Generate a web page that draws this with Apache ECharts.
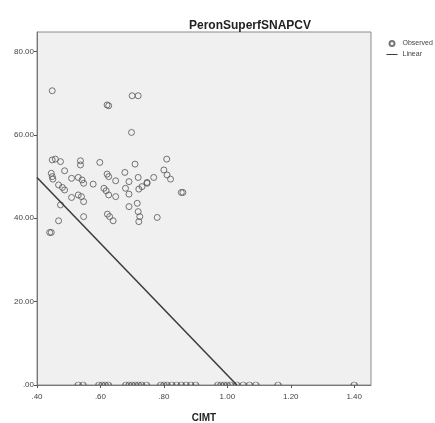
<!DOCTYPE html>
<html>
<head>
<meta charset="utf-8">
<script src="https://cdn.jsdelivr.net/npm/echarts@6/dist/echarts.min.js"></script>
<style>
  html, body { margin: 0; padding: 0; background: #ffffff; }
  #chart { width: 435px; height: 423px; }
</style>
</head>
<body>
<div id="chart"></div>
<script>
// Observed cases: CIMT against PeronSuperfSNAPCV
const cimtObserved = [
  0.448, 0.621, 0.626, 0.700, 0.719, 0.698,
  0.448, 0.458, 0.474, 0.537, 0.537, 0.598, 0.709, 0.809,
  0.677, 0.800, 0.810, 0.821,
  0.445, 0.448, 0.450, 0.487, 0.509, 0.530, 0.542, 0.547,
  0.621, 0.626, 0.648, 0.690, 0.719, 0.747, 0.768,
  0.468, 0.480, 0.487, 0.577, 0.611, 0.618, 0.626, 0.648,
  0.679, 0.690, 0.721, 0.731, 0.747, 0.855, 0.860,
  0.509, 0.530, 0.540, 0.547, 0.474, 0.690, 0.716,
  0.719, 0.724, 0.721, 0.547, 0.622, 0.629, 0.640, 0.779,
  0.468, 0.440, 0.445,
  // zero responses along the axis
  0.530, 0.545, 0.595, 0.605, 0.615, 0.625, 0.680, 0.690, 0.700, 0.710,
  0.720, 0.730, 0.745, 0.790, 0.800, 0.810, 0.825, 0.840, 0.855, 0.870,
  0.885, 0.900, 0.970, 0.980, 0.990, 1.000, 1.010, 1.030, 1.050, 1.070,
  1.090, 1.160, 1.400
];
const snapObserved = [
  70.6, 67.2, 67.0, 69.4, 69.4, 60.6,
  54.0, 54.2, 53.6, 53.8, 52.8, 53.4, 53.0, 54.2,
  51.0, 51.6, 50.4, 49.4,
  50.8, 50.0, 49.4, 51.4, 49.6, 49.8, 49.2, 48.4,
  50.6, 50.0, 49.0, 48.8, 49.8, 48.6, 49.8,
  48.0, 47.4, 46.8, 48.2, 47.2, 46.6, 45.6, 45.2,
  47.2, 45.8, 47.0, 47.6, 48.4, 46.2, 46.2,
  45.0, 45.6, 45.2, 44.0, 43.2, 42.8, 43.6,
  41.6, 40.4, 39.2, 40.4, 41.0, 40.4, 39.4, 40.2,
  39.4, 36.6, 36.6,
  0, 0, 0, 0, 0, 0, 0, 0, 0, 0,
  0, 0, 0, 0, 0, 0, 0, 0, 0, 0,
  0, 0, 0, 0, 0, 0, 0, 0, 0, 0,
  0, 0, 0
];

// Linear fit endpoints (clipped at the lower axis)
const fitCimt = [0.40, 1.03];
const fitSnap = [49.8, 0.0];

const xTicks = [0.40, 0.60, 0.80, 1.00, 1.20, 1.40];
const yTicks = [0, 20, 40, 60, 80];

const Y_MIN = yTicks[0];

const fmt = v => {
  const s = v.toFixed(2);
  return s.startsWith('0.') ? s.slice(1) : s;
};

// markers sitting on the lower frame are cut by it, leaving the upper arc
const UPPER_ARC = 'path://M0,10 A10,10 0 0 1 20,10';

const chart = echarts.init(document.getElementById('chart'), null, { renderer: 'canvas' });

const FONT = 'Liberation Sans, Arial, sans-serif';
const labelStyle = { color: '#444', fontSize: 8, fontFamily: FONT };

chart.setOption({
  animation: false,
  backgroundColor: '#ffffff',
  title: {
    text: 'PeronSuperfSNAPCV',
    left: 184, top: 15,
    textStyle: { fontSize: 12, fontWeight: 'bold', color: '#222', fontFamily: FONT }
  },
  legend: {
    orient: 'vertical',
    left: 381, top: 35,
    itemGap: 4,
    itemWidth: 11, itemHeight: 5,
    textStyle: { fontSize: 7, color: '#444', fontFamily: FONT },
    data: [
      { name: 'Observed', icon: 'emptyCircle', itemStyle: { color: '#555', borderColor: '#555', borderWidth: 1 } },
      { name: 'Linear', itemStyle: { opacity: 0 }, lineStyle: { color: '#3a3a3a', width: 1 } }
    ]
  },
  grid: {
    left: 37, top: 32, right: 64, bottom: 38,
    outerBoundsMode: 'none',
    containLabel: false,
    show: true, backgroundColor: '#f0f0f0', borderColor: '#8c8c8c', borderWidth: 1
  },
  xAxis: {
    type: 'value',
    min: xTicks[0], max: 1.453, interval: 0.2,
    name: 'CIMT', nameLocation: 'middle', nameGap: 28,
    nameTextStyle: { fontSize: 10, fontWeight: 'bold', color: '#222', fontFamily: FONT },
    axisLine: { show: true, onZero: false, lineStyle: { color: '#777', width: 1 } },
    axisTick: { show: true, length: 3, lineStyle: { color: '#555' } },
    axisLabel: { ...labelStyle, margin: 8, showMaxLabel: false, formatter: v => xTicks.some(t => Math.abs(t - v) < 1e-6) ? fmt(v) : '' },
    splitLine: { show: false }
  },
  yAxis: {
    type: 'value',
    min: Y_MIN, max: 84.7, interval: 20,
    axisLine: { show: true, lineStyle: { color: '#777', width: 1 } },
    axisTick: { show: true, length: 3, lineStyle: { color: '#555' } },
    axisLabel: { ...labelStyle, margin: 3, showMaxLabel: false, formatter: v => yTicks.includes(v) ? fmt(v) : '' },
    splitLine: { show: false }
  },
  series: [
    {
      name: 'Observed',
      type: 'scatter',
      clip: true,
      symbol: (val) => val[1] <= Y_MIN ? UPPER_ARC : 'circle',
      symbolSize: (val) => val[1] <= Y_MIN ? [6, 3] : 6,
      symbolOffset: (val) => val[1] <= Y_MIN ? [0, -1.5] : [0, 0],
      itemStyle: { color: 'rgba(0,0,0,0)', borderColor: '#555', borderWidth: 1 },
      data: cimtObserved.map((x, i) => [x, snapObserved[i]])
    },
    {
      name: 'Linear',
      type: 'line',
      symbol: 'none',
      itemStyle: { color: '#3a3a3a' },
      lineStyle: { color: '#3a3a3a', width: 1.5 },
      data: fitCimt.map((x, i) => [x, fitSnap[i]])
    }
  ]
});
</script>
</body>
</html>
